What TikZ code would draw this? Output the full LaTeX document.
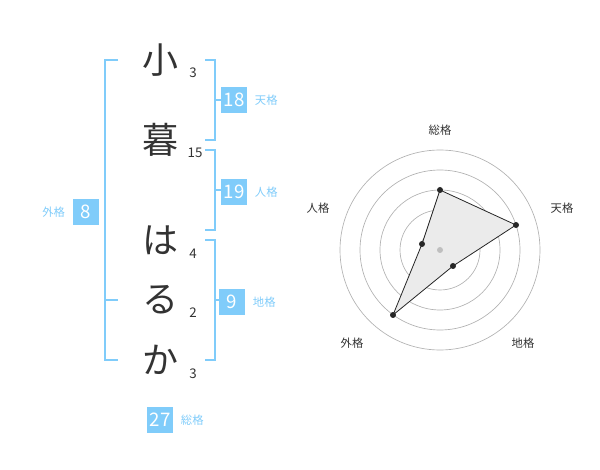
\documentclass[tikz,border=0pt]{standalone}
\usepackage{fontspec}
\setmainfont{Noto Sans CJK JP}
\usetikzlibrary{positioning}
\definecolor{kblue}{HTML}{80CCFA}
\tikzset{
  kanji/.style={font=\fontsize{27}{27}\selectfont, text=black!80},
  stroke/.style={font=\fontsize{10}{10}\selectfont, text=black!80},
  numbox/.style={fill=kblue, text=white, minimum width=20pt, minimum height=20pt, inner sep=0pt, font=\fontsize{14}{14}\selectfont},
  kaku/.style={text=kblue, font=\fontsize{8.5}{8.5}\selectfont},
  brk/.style={kblue, line width=1.2pt},
  axislabel/.style={font=\fontsize{8.5}{8.5}\selectfont, text=black!80},
}
\begin{document}
\begin{tikzpicture}[x=0.75pt,y=-0.75pt]
	\useasboundingbox (0,0) rectangle (600,470);
	% characters
	\foreach \ch/\y [count=\i] in {小/60,暮/140,は/240,る/300,か/360} {
		\node[kanji] (c\i) at (160,\y) {\ch};
	}
	% strokes
	\node[stroke] (s1) at (193,73) {3};
	\node[stroke] (s2) at (195,153) {15};
	\node[stroke] (s3) at (193,254) {4};
	\node[stroke] (s4) at (193,313) {2};
	\node[stroke] (s5) at (193,374) {3};
	% brackets
	\draw[brk] (118,60) -| (105,360) -- (118,360);
	\draw[brk] (105,300) -- (118,300);
	\draw[brk] (205,60) -| (215,140) -- (205,140);
	\draw[brk] (205,150) -| (215,230) -- (205,230);
	\draw[brk] (205,240) -| (215,360) -- (205,360);
	\draw[brk] (215,100) -- (221,100);
	\draw[brk] (215,190) -- (221,190);
	\draw[brk] (215,300) -- (221,300);
	% boxes
	\node[numbox] (ten) at (234,100) {18};
	\node[kaku, right=2pt of ten] {天格};
	\node[numbox] (jin) at (234,192) {19};
	\node[kaku, right=2pt of jin] {人格};
	\node[numbox] (chi) at (232,302) {9};
	\node[kaku, right=2pt of chi] {地格};
	\node[numbox] (gai) at (86,212) {8};
	\node[kaku, left=2pt of gai] {外格};
	\node[numbox] (sou) at (160,420) {27};
	\node[kaku, right=2pt of sou] {総格};
	% radar
	\coordinate (o) at (440,250);
	\foreach \r in {20,40,60,80,100} {
		\draw[black!30, line width=0.5pt] (o) circle[radius=\r];
	}
	\fill[black!8] (440,190) -- (516,225) -- (453,266) -- (393,315) -- (422,244) -- cycle;
	\draw[black!85, line width=0.6pt] (440,190) coordinate (p1) -- (516,225) coordinate (p2)
		-- (453,266) coordinate (p3) -- (393,315) coordinate (p4) -- (422,244) coordinate (p5) -- cycle;
	\foreach \p in {p1,p2,p3,p4,p5} {
		\fill[black!85] (\p) circle[radius=3];
	}
	\fill[black!25] (o) circle[radius=3];
	\node[axislabel] at (440,130) {総格};
	\node[axislabel] at (562,208) {天格};
	\node[axislabel] at (523,343) {地格};
	\node[axislabel] at (352,343) {外格};
	\node[axislabel] at (318,208) {人格};
\end{tikzpicture}
\end{document}
